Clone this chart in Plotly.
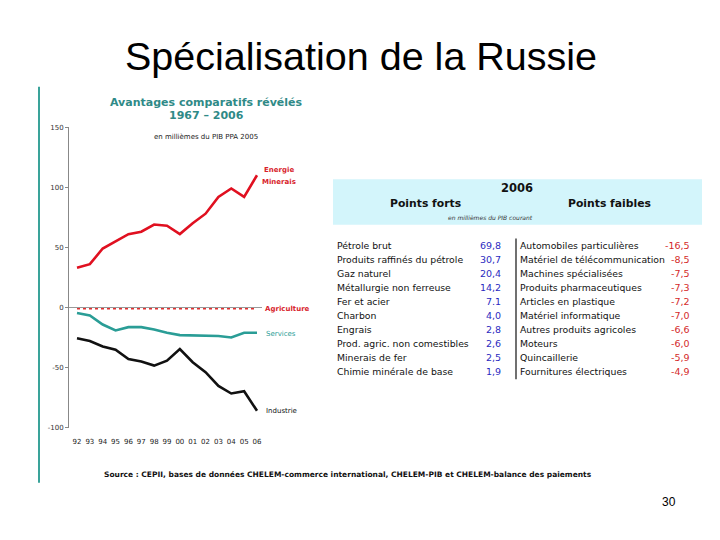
import plotly.graph_objects as go

years = ["92", "93", "94", "95", "96", "97", "98", "99", "00", "01", "02", "03", "04", "05", "06"]
energie = [33, 36, 49, 55, 61, 63, 69, 68, 61, 70, 78, 92, 99, 92, 110]
agriculture = [-1, -1, -1, -1, -1, -1, -1, -1.5, -1.5, -1, -1, -1, -1, -1, -1]
services = [-4.6, -6.6, -14.2, -19.1, -16.4, -16.4, -18.3, -21, -23, -23.2, -23.5, -23.8, -25, -21, -21]
industrie = [-25.7, -27.9, -32.5, -35.2, -42.9, -45, -48.4, -44.3, -34.7, -45.6, -53.8, -65.3, -71.6, -69.7, -86]
y_ticks = [-100, -50, 0, 50, 100, 150]
y_ticklabels = ["-100", "-50", "0", "50", "100", "150"]

forts_names = ["Pétrole brut", "Produits raffinés du pétrole", "Gaz naturel", "Métallurgie non ferreuse",
               "Fer et acier", "Charbon", "Engrais", "Prod. agric. non comestibles", "Minerais de fer",
               "Chimie minérale de base"]
forts_vals = ["69,8", "30,7", "20,4", "14,2", "7.1", "4,0", "2,8", "2,6", "2,5", "1,9"]
faibles_names = ["Automobiles particulières", "Matériel de télécommunication", "Machines spécialisées",
                 "Produits pharmaceutiques", "Articles en plastique", "Matériel informatique",
                 "Autres produits agricoles", "Moteurs", "Quincaillerie", "Fournitures électriques"]
faibles_vals = ["-16,5", "-8,5", "-7,5", "-7,3", "-7,2", "-7,0", "-6,6", "-6,0", "-5,9", "-4,9"]

W, H = 720, 540
def px(x):
    return x / W
def py(y):
    return 1 - y / H

RED = "#d81e2c"
TEAL = "#2a9d96"
TITLE_TEAL = "#2f8a87"
xi = list(range(len(years)))

fig = go.Figure()
fig.add_trace(go.Scatter(x=xi, y=energie, mode="lines", line=dict(color="#e01020", width=2.6), name="Energie"))
fig.add_trace(go.Scatter(x=xi, y=agriculture, mode="lines", line=dict(color="#e03030", width=1.5, dash="dot"), name="Agriculture"))
fig.add_trace(go.Scatter(x=xi, y=services, mode="lines", line=dict(color=TEAL, width=2.6), name="Services"))
fig.add_trace(go.Scatter(x=xi, y=industrie, mode="lines", line=dict(color="#111111", width=2.6), name="Industrie"))

fig.update_layout(
    width=W, height=H, margin=dict(l=0, r=0, t=0, b=0),
    paper_bgcolor="white", plot_bgcolor="white", showlegend=False,
    font=dict(family="DejaVu Sans", color="black"),
    xaxis=dict(domain=[px(69), px(262)], range=[-0.622, 14.39], tickmode="array", tickvals=xi, ticktext=years,
               showgrid=False, zeroline=False, showline=False, ticks="outside", ticklen=7,
               tickcolor="rgba(0,0,0,0)", tickfont=dict(size=7, color="#222")),
    yaxis=dict(domain=[py(430), py(125)], range=[-100, 150], tickmode="array", tickvals=y_ticks,
               ticktext=y_ticklabels,
               showgrid=False, zeroline=True, zerolinecolor="#999", zerolinewidth=1,
               showline=True, linecolor="#888", linewidth=1, ticks="outside", ticklen=3,
               tickcolor="#888", tickfont=dict(size=7, color="#333")),
)

anns = []
def ann(x, y, text, size, color="black", xanchor="center", family="DejaVu Sans", bold=False, italic=False):
    t = text
    if bold:
        t = "<b>" + t + "</b>"
    if italic:
        t = "<i>" + t + "</i>"
    anns.append(dict(x=px(x), y=py(y), xref="paper", yref="paper", text=t, showarrow=False,
                     xanchor=xanchor, yanchor="middle", font=dict(size=size, color=color, family=family)))

# slide title
ann(361, 53, "Spécialisation de la Russie", 39.5, "black", family="Liberation Sans")
ann(669, 505, "30", 12, "black", family="Liberation Sans")

# chart titles
ann(206, 100, "Avantages comparatifs révélés", 11, TITLE_TEAL, bold=True)
ann(206, 113, "1967 – 2006", 11, TITLE_TEAL, bold=True)
ann(206, 135, "en millièmes du PIB PPA 2005", 7, "#222")

# series labels
ann(279, 169, "Energie", 7, RED, bold=True)
ann(279, 181, "Minerais", 7, RED, bold=True)
ann(263, 310, "Agriculture", 7, RED, xanchor="left", bold=True)
ann(264, 335, "Services", 7, TEAL, xanchor="left")
ann(264, 413, "Industrie", 7, "#111", xanchor="left")

# source
ann(102, 478, "Source : CEPII, bases de données CHELEM-commerce international, CHELEM-PIB et CHELEM-balance des paiements",
    7.5, "#111", xanchor="left", bold=True)

# table header
ann(517, 187, "2006", 11.5, "#111", bold=True)
ann(425, 203, "Points forts", 10.8, "#111", bold=True)
ann(609, 203, "Points faibles", 10.8, "#111", bold=True)
ann(490, 217, "en millièmes du PIB courant", 6, "#333", italic=True)

# table rows
y0, dy = 245, 14.2
for i in range(len(forts_names)):
    y = y0 + i * dy
    ann(335, y, forts_names[i], 9.3, "#111", xanchor="left")
    anns.append(dict(x=px(503), y=py(y), xref="paper", yref="paper", text=forts_vals[i], showarrow=False,
                     xanchor="right", yanchor="middle", font=dict(size=9.5, color="#2b2bbf", family="DejaVu Sans")))
    ann(518, y, faibles_names[i], 9.3, "#111", xanchor="left")
    anns.append(dict(x=px(692), y=py(y), xref="paper", yref="paper", text=faibles_vals[i], showarrow=False,
                     xanchor="right", yanchor="middle", font=dict(size=9.5, color="#d42a2a", family="DejaVu Sans")))

fig.update_layout(annotations=anns)

shapes = [
    dict(type="line", xref="paper", yref="paper", x0=px(39), x1=px(39), y0=py(84), y1=py(486),
         line=dict(color="#3aa39a", width=2)),
    dict(type="rect", xref="paper", yref="paper", x0=px(333), x1=px(702), y0=py(224), y1=py(178),
         fillcolor="#d3f5fb", line=dict(width=0), layer="below"),
    dict(type="line", xref="paper", yref="paper", x0=px(516), x1=px(516), y0=py(238), y1=py(381),
         line=dict(color="#111", width=1.2)),
]
fig.update_layout(shapes=shapes)

fig.write_html("out.html", config={"displayModeBar": False},
               post_script="document.body.style.margin='0px';document.body.style.overflow='hidden';")
